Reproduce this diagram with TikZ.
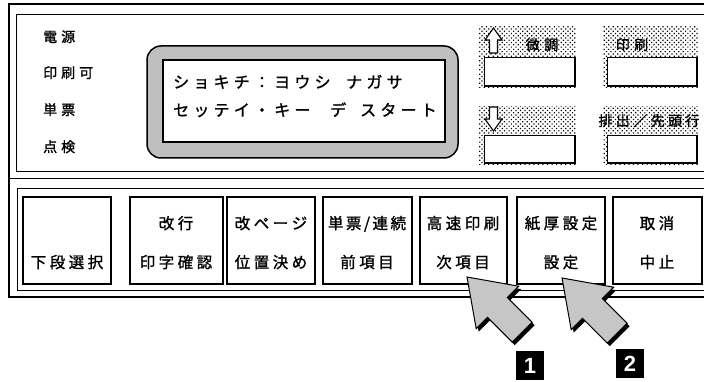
\documentclass[tikz,border=0pt]{standalone}
\usepackage{fontspec}
\usetikzlibrary{patterns.meta}
\newfontfamily\jp{Noto Sans CJK JP}[FakeBold=1.3]
\newfontfamily\numf{Liberation Sans}
\makeatletter
\newcommand\spaceout[2]{\def\so@gap{#1}\so@loop#2\relax\kern-#1\relax}
\def\so@loop#1{\ifx#1\relax\else#1\kern\so@gap\relax\expandafter\so@loop\fi}
\makeatother
\tikzset{
  frame/.style={draw=black, line width=1pt},
  outerframe/.style={draw=black, line width=2pt},
  btn/.style={draw=black, line width=1.3pt},
  btntext/.style={font=\jp\fontsize{15.5}{18}\selectfont, inner sep=0pt, anchor=base},
  lbl/.style={font=\jp\fontsize{14}{16}\selectfont, inner sep=0pt, anchor=base west},
  lcd/.style={font=\jp\fontsize{16}{18}\selectfont, inner sep=0pt, anchor=base west},
  boxlbl/.style={font=\jp\fontsize{14}{15}\selectfont, inner sep=0pt, anchor=base},
  shade/.style={pattern={Dots[distance=3.2pt, angle=45, radius=0.85pt]}, pattern color=black},
  whitebox/.style={fill=white, draw=black, line width=0.8pt},
  numtext/.style={text=white, font=\numf\bfseries\fontsize{22}{22}\selectfont, inner sep=0pt},
  press/.pic={
    \begin{scope}[x={(0.7071pt,-0.7071pt)}, y={(0.7071pt,0.7071pt)}]
      \fill[black, shift={(2.5pt,-3pt)}] (0,0) -- (43,30) -- (43,14) -- (78,14) -- (78,-14) -- (43,-14) -- (43,-30) -- cycle;
      \filldraw[fill=gray!45, draw=black, line width=1pt, line join=miter]
        (0,0) -- (43,30) -- (43,14) -- (78,14) -- (78,-14) -- (43,-14) -- (43,-30) -- cycle;
    \end{scope}}
}
\begin{document}
\begin{tikzpicture}[x=1pt, y=-1pt]
\useasboundingbox (0,0) rectangle (704,382);
\clip (0,0) rectangle (704,382);
\fill[white] (0,0) rectangle (704,382);

% outer frame and panels
\draw[outerframe] (730,4) -- (9,4) -- (9,297) -- (730,297);
\draw[frame] (9,179) -- (730,179);
\draw[frame] (730,15) -- (16,15) -- (16,172) -- (730,172);
\draw[frame] (730,189) -- (17,189) -- (17,290) -- (730,290);

% status labels
\node[lbl] (l1) at (43,42) {\spaceout{4pt}{電源}};
\node[lbl] (l2) at (43,78) {\spaceout{4pt}{印刷可}};
\node[lbl] (l3) at (43,115) {\spaceout{4pt}{単票}};
\node[lbl] (l4) at (43,152) {\spaceout{4pt}{点検}};

% LCD
\filldraw[fill=gray!50, draw=black, line width=1.5pt, rounded corners=14pt] (147,46) rectangle (458,158);
\filldraw[fill=white, draw=black, line width=1.6pt] (163,60) rectangle (445,142);
\node[lcd] (r1a) at (173,88) {\spaceout{4.2pt}{ショキチ：ヨウシ}};
\node[lcd] (r1b) at (346,88) {\spaceout{4.2pt}{ナガサ}};
\node[lcd] (r2a) at (173,116) {\spaceout{4.2pt}{セッテイ・キー}};
\node[lcd] (r2b) at (330,116) {デ};
\node[lcd] (r2c) at (360,116) {\spaceout{4.2pt}{スタート}};

% indicator boxes
\fill[shade] (479,27) rectangle (576,88);
\fill[shade] (603,27) rectangle (698,88);
\fill[shade] (479,107) rectangle (576,165);
\fill[shade] (603,107) rectangle (698,165);
\foreach \xa/\ya/\xb/\yb in {484/57/575/86, 607/57/697/86, 484/135/575/163, 607/135/697/163}{
  \filldraw[whitebox] (\xa,\ya) rectangle (\xb,\yb);
  \draw[line width=1.8pt] (\xb,\ya) -- (\xb,\yb) -- (\xa,\yb);
}
\node[boxlbl] (bA) at (542,50) {\spaceout{4.5pt}{微調}};
\node[boxlbl] (bB) at (632,50) {\spaceout{4.5pt}{印刷}};
\node[boxlbl] (bD) at (649,126) {\spaceout{3.4pt}{排出／先頭行}};
\filldraw[fill=white, draw=black, line width=1.1pt, line join=miter]
  (493.5,28) -- (502,40) -- (497.5,40) -- (497.5,53) -- (489.5,53) -- (489.5,40) -- (485,40) -- cycle;
\filldraw[fill=white, draw=black, line width=1.1pt, line join=miter]
  (493.5,131) -- (502,119) -- (497.5,119) -- (497.5,107) -- (489.5,107) -- (489.5,119) -- (485,119) -- cycle;

% keys
\draw[btn] (23,197) rectangle (111,284);
\draw[btn] (130,197) rectangle (223,284);
\draw[btn] (227,197) rectangle (315,284);
\draw[btn] (323,197) rectangle (412,284);
\draw[btn] (420,197) rectangle (507,284);
\draw[btn] (517,197) rectangle (605,284);
\draw[btn] (613,197) rectangle (702,284);

\node[btntext] (k1b) at (67,268) {\spaceout{3.5pt}{下段選択}};
\node[btntext] (k2t) at (176,229) {\spaceout{3.5pt}{改行}};
\node[btntext] (k2b) at (176,268) {\spaceout{3.5pt}{印字確認}};
\node[btntext] (k3t) at (271,229) {\spaceout{3.5pt}{改ページ}};
\node[btntext] (k3b) at (271,268) {\spaceout{3.5pt}{位置決め}};
\node[btntext] (k4t) at (367,229) {\spaceout{2.5pt}{単票/連続}};
\node[btntext] (k4b) at (367,268) {\spaceout{3.5pt}{前項目}};
\node[btntext] (k5t) at (463,229) {\spaceout{3.5pt}{高速印刷}};
\node[btntext] (k5b) at (463,268) {\spaceout{3.5pt}{次項目}};
\node[btntext] (k6t) at (561,229) {\spaceout{3.5pt}{紙厚設定}};
\node[btntext] (k6b) at (561,268) {\spaceout{3.5pt}{設定}};
\node[btntext] (k7t) at (657,229) {\spaceout{3.5pt}{取消}};
\node[btntext] (k7b) at (657,268) {\spaceout{3.5pt}{中止}};

% pointing arrows
\pic (p1) at (467,277) {press};
\pic (p2) at (562,278) {press};

% step numbers
\fill[black] (516,351) rectangle (544,380);
\fill[black] (616,349) rectangle (644,378);
\node[numtext] (n1) at (530,365.5) {1};
\node[numtext] (n2) at (630,363.5) {2};
\end{tikzpicture}
\end{document}
